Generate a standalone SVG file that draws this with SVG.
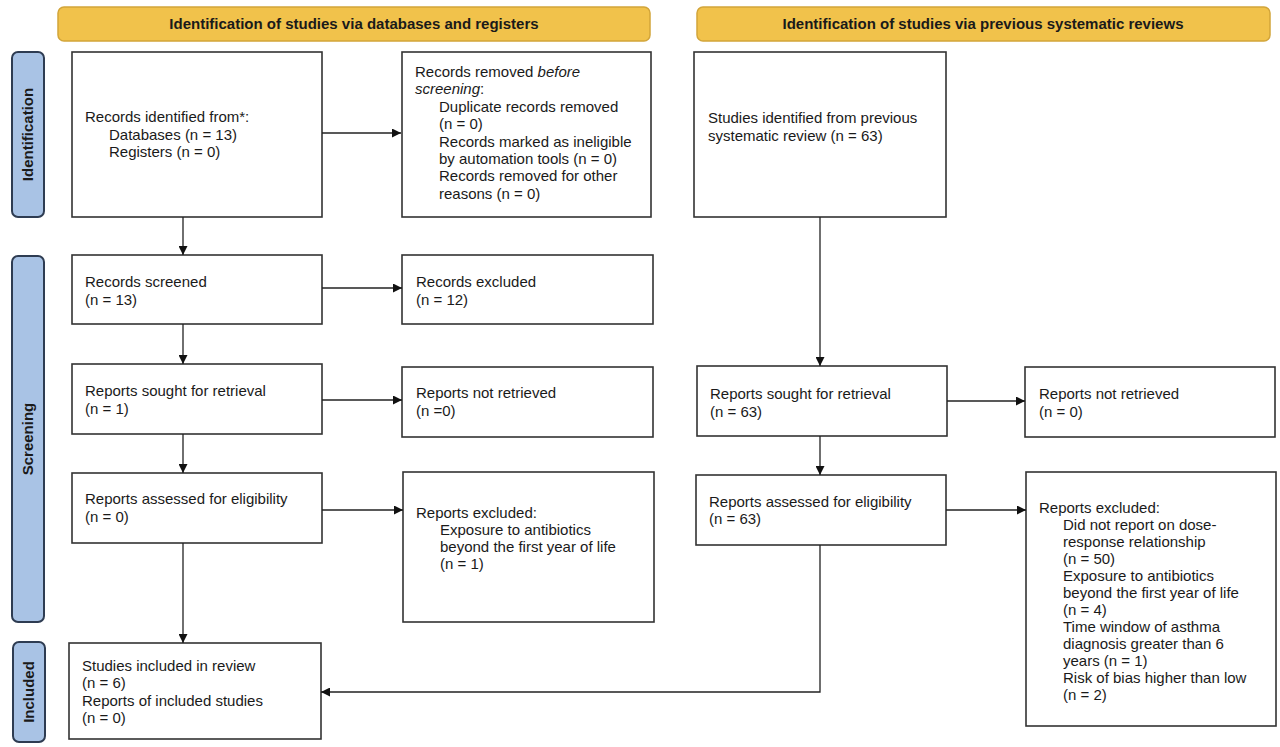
<svg xmlns="http://www.w3.org/2000/svg" width="1280" height="747" viewBox="0 0 1280 747">
<style>
.hdr{fill:#f1c24b;stroke:#d2a53a;stroke-width:1.5}
.side{fill:#a9c3e5;stroke:#2e3c52;stroke-width:2}
.box{fill:#ffffff;stroke:#333333;stroke-width:1.6}
.t{font-family:"Liberation Sans",Arial,sans-serif;font-size:15px;fill:#1a1a1a}
.hb{font-family:"Liberation Sans",Arial,sans-serif;font-size:15px;font-weight:bold;fill:#1a1a1a;text-anchor:middle}
.con{fill:none;stroke:#222222;stroke-width:1.3}
</style>
<defs>
<marker id="ah" markerUnits="userSpaceOnUse" markerWidth="10" markerHeight="9" refX="9" refY="4.5" orient="auto">
<path d="M0,0 L9,4.5 L0,9 z" fill="#111111"/>
</marker>
</defs>
<rect width="1280" height="747" fill="#ffffff"/>

<g id="header-databases">
<rect class="hdr" x="58" y="7" width="592" height="34" rx="6"/>
<text class="hb" x="354" y="29">Identification of studies via databases and registers</text>
</g>
<g id="header-previous">
<rect class="hdr" x="697" y="7" width="573" height="34" rx="6"/>
<text class="hb" x="983" y="29">Identification of studies via previous systematic reviews</text>
</g>

<g id="phase-identification">
<rect class="side" x="12" y="52" width="32" height="165" rx="6"/>
<text class="hb" transform="translate(33,134.5) rotate(-90)">Identification</text>
</g>
<g id="phase-screening">
<rect class="side" x="12" y="256" width="32" height="366" rx="6"/>
<text class="hb" transform="translate(33,439) rotate(-90)">Screening</text>
</g>
<g id="phase-included">
<rect class="side" x="13" y="642" width="32" height="100" rx="6"/>
<text class="hb" transform="translate(34,692) rotate(-90)">Included</text>
</g>

<g id="records-identified">
<rect class="box" x="72" y="52" width="250" height="165"/>
<text class="t" x="85" y="122">Records identified from*:</text>
<text class="t" x="109" y="139.5">Databases (n = 13)</text>
<text class="t" x="109" y="157">Registers (n = 0)</text>
</g>
<g id="records-removed">
<rect class="box" x="402" y="52" width="249" height="165"/>
<text class="t" x="415" y="77">Records removed <tspan font-style="italic">before</tspan></text>
<text class="t" x="415" y="94.4"><tspan font-style="italic">screening</tspan>:</text>
<text class="t" x="439" y="111.8">Duplicate records removed</text>
<text class="t" x="439" y="129.2">(n = 0)</text>
<text class="t" x="439" y="146.6">Records marked as ineligible</text>
<text class="t" x="439" y="164">by automation tools (n = 0)</text>
<text class="t" x="439" y="181.4">Records removed for other</text>
<text class="t" x="439" y="198.8">reasons (n = 0)</text>
</g>
<g id="studies-previous">
<rect class="box" x="694" y="52" width="252" height="165"/>
<text class="t" x="708" y="123">Studies identified from previous</text>
<text class="t" x="708" y="141">systematic review (n = 63)</text>
</g>

<g id="records-screened">
<rect class="box" x="72" y="255" width="250" height="69"/>
<text class="t" x="85" y="287">Records screened</text>
<text class="t" x="85" y="304.5">(n = 13)</text>
</g>
<g id="records-excluded">
<rect class="box" x="402" y="255" width="251" height="69"/>
<text class="t" x="416" y="287">Records excluded</text>
<text class="t" x="416" y="304.5">(n = 12)</text>
</g>

<g id="reports-sought-db">
<rect class="box" x="72" y="364" width="250" height="70"/>
<text class="t" x="85" y="396">Reports sought for retrieval</text>
<text class="t" x="85" y="413.5">(n = 1)</text>
</g>
<g id="reports-not-retrieved-db">
<rect class="box" x="402" y="367" width="251" height="70"/>
<text class="t" x="416" y="398">Reports not retrieved</text>
<text class="t" x="416" y="415.5">(n =0)</text>
</g>

<g id="reports-assessed-db">
<rect class="box" x="72" y="473" width="250" height="70"/>
<text class="t" x="85" y="504">Reports assessed for eligibility</text>
<text class="t" x="85" y="521.5">(n = 0)</text>
</g>
<g id="reports-excluded-db">
<rect class="box" x="403" y="472" width="251" height="150"/>
<text class="t" x="416" y="518">Reports excluded:</text>
<text class="t" x="440" y="535">Exposure to antibiotics</text>
<text class="t" x="440" y="552">beyond the first year of life</text>
<text class="t" x="440" y="569">(n = 1)</text>
</g>

<g id="reports-sought-prev">
<rect class="box" x="697" y="366" width="250" height="70"/>
<text class="t" x="710" y="399">Reports sought for retrieval</text>
<text class="t" x="710" y="416.5">(n = 63)</text>
</g>
<g id="reports-not-retrieved-prev">
<rect class="box" x="1025" y="367" width="250" height="70"/>
<text class="t" x="1039" y="399">Reports not retrieved</text>
<text class="t" x="1039" y="416.5">(n = 0)</text>
</g>

<g id="reports-assessed-prev">
<rect class="box" x="696" y="475" width="250" height="70"/>
<text class="t" x="709" y="506.5">Reports assessed for eligibility</text>
<text class="t" x="709" y="524">(n = 63)</text>
</g>
<g id="reports-excluded-prev">
<rect class="box" x="1026" y="472" width="250" height="254"/>
<text class="t" x="1039" y="513">Reports excluded:</text>
<text class="t" x="1063" y="530">Did not report on dose-</text>
<text class="t" x="1063" y="547">response relationship</text>
<text class="t" x="1063" y="564">(n = 50)</text>
<text class="t" x="1063" y="581">Exposure to antibiotics</text>
<text class="t" x="1063" y="598">beyond the first year of life</text>
<text class="t" x="1063" y="615">(n = 4)</text>
<text class="t" x="1063" y="632">Time window of asthma</text>
<text class="t" x="1063" y="649">diagnosis greater than 6</text>
<text class="t" x="1063" y="666">years (n = 1)</text>
<text class="t" x="1063" y="683">Risk of bias higher than low</text>
<text class="t" x="1063" y="700">(n = 2)</text>
</g>

<g id="studies-included">
<rect class="box" x="69" y="643" width="252" height="96"/>
<text class="t" x="82" y="671">Studies included in review</text>
<text class="t" x="82" y="688">(n = 6)</text>
<text class="t" x="82" y="705.5">Reports of included studies</text>
<text class="t" x="82" y="723">(n = 0)</text>
</g>

<g id="connectors">
<line class="con" x1="322" y1="133" x2="401" y2="133" marker-end="url(#ah)"/>
<line class="con" x1="183" y1="217" x2="183" y2="255" marker-end="url(#ah)"/>
<line class="con" x1="322" y1="288" x2="402" y2="288" marker-end="url(#ah)"/>
<line class="con" x1="183" y1="324" x2="183" y2="364" marker-end="url(#ah)"/>
<line class="con" x1="322" y1="400" x2="402" y2="400" marker-end="url(#ah)"/>
<line class="con" x1="183" y1="434" x2="183" y2="473" marker-end="url(#ah)"/>
<line class="con" x1="322" y1="510" x2="403" y2="510" marker-end="url(#ah)"/>
<line class="con" x1="183" y1="543" x2="183" y2="643" marker-end="url(#ah)"/>
<line class="con" x1="820" y1="217" x2="820" y2="366" marker-end="url(#ah)"/>
<line class="con" x1="947" y1="401" x2="1025" y2="401" marker-end="url(#ah)"/>
<line class="con" x1="820" y1="436" x2="820" y2="475" marker-end="url(#ah)"/>
<line class="con" x1="946" y1="510" x2="1026" y2="510" marker-end="url(#ah)"/>
<polyline class="con" points="820,545 820,692 321,692" marker-end="url(#ah)"/>
</g>
</svg>
